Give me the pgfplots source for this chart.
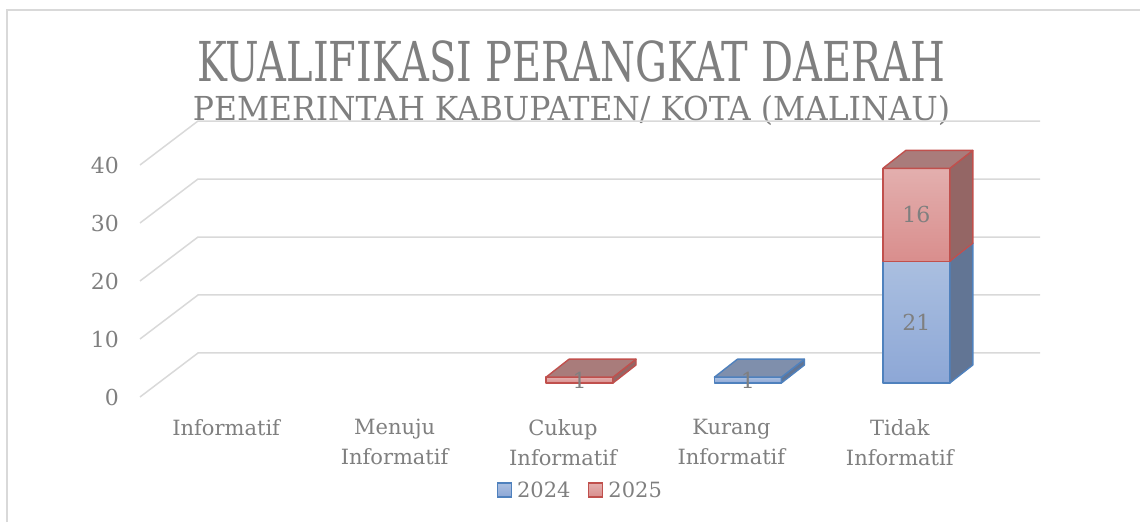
\documentclass[border=0pt]{standalone}
\usepackage{pgfplots}
\pgfplotsset{compat=1.18}
\usepackage{pgfplotstable}
\usepackage{graphicx}
\usepackage{fontspec}
\setmainfont{DejaVu Serif}

\definecolor{txtgray}{HTML}{7F7F7F}
\definecolor{gridgray}{HTML}{D9D9D9}
\definecolor{blueedge}{HTML}{4F81BD}
\definecolor{bluefronttop}{HTML}{AABFE0}
\definecolor{bluefrontbot}{HTML}{8DA7D6}
\definecolor{blueside}{HTML}{627594}
\definecolor{bluetop}{HTML}{7F8FAC}
\definecolor{rededge}{HTML}{C0504D}
\definecolor{redfronttop}{HTML}{E3AFAE}
\definecolor{redfrontbot}{HTML}{D98E8D}
\definecolor{redside}{HTML}{946665}
\definecolor{redtop}{HTML}{A97C7B}

\pgfdeclareplotmark{nothing}{}

\pgfplotstableread{
x y2024 y2025
0 0 0
1 0 0
2 0 1
3 1 0
4 21 16
}\datatable

% #1 value, #2 front top, #3 front bottom, #4 side, #5 top, #6 edge
\newcommand\cuboid[6]{%
  \pgfmathsetmacro\hh{#1*5.8}%
  \pgfmathsetmacro\bb{14-\hh}%
  \pgfmathsetmacro\mm{14-0.5*\hh}%
  \ifdim\hh pt>0pt
    \begin{scope}[line join=round, line width=1.4pt]
      \path[draw=#6, top color=#2, bottom color=#3] (-15pt,\bb pt) rectangle (52pt,14pt);
      \path[draw=#6, fill=#4] (52pt,14pt) -- (75pt,32pt) -- (75pt,\bb pt+18pt) -- (52pt,\bb pt) -- cycle;
      \path[draw=#6, fill=#5] (-15pt,14pt) -- (52pt,14pt) -- (75pt,32pt) -- (8pt,32pt) -- cycle;
      \node[text=txtgray, font=\fontsize{22}{24}\selectfont, inner sep=0pt] at (18.5pt,\mm pt) {#1};
    \end{scope}
  \fi}

\begin{document}
\begin{tikzpicture}[x=1pt,y=1pt]
\useasboundingbox (0,0) rectangle (1140,522);
\draw[gridgray, line width=1.5pt] (7,0) -- (7,512) -- (1140,512);
\node[anchor=base, text=txtgray, inner sep=0pt] at (571,440)
  {\resizebox{748pt}{\height}{\fontsize{55}{60}\selectfont KUALIFIKASI PERANGKAT DAERAH}};
\node[anchor=base, text=txtgray, inner sep=0pt] at (571.5,401)
  {\resizebox{757pt}{\height}{\fontsize{33}{36}\selectfont PEMERINTAH KABUPATEN/ KOTA (MALINAU)}};
\begin{axis}[
  at={(140pt,125pt)}, anchor=south west,
  scale only axis, width=842pt, height=232pt,
  xmin=-0.5, xmax=4.5, ymin=0, ymax=40,
  clip=false,
  axis line style={draw=none},
  major tick length=0pt,
  /pgf/number format/assume math mode=true,
  ytick={0,10,20,30,40},
  yticklabel style={text=txtgray, font=\fontsize{22}{24}\selectfont, anchor=east, inner sep=0pt, xshift=-21pt},
  xtick={0,1,2,3,4},
  xticklabels={Informatif, Menuju\\Informatif, Cukup\\Informatif, Kurang\\Informatif, Tidak\\Informatif},
  xticklabel style={text=txtgray, font=\fontsize{21}{30}\selectfont, align=center, anchor=north, inner sep=0pt, yshift=-22pt, xshift=2pt},
  legend columns=2,
  legend style={at={(0.5137,-0.401)}, anchor=center, draw=none, fill=none,
    font=\fontsize{21}{24}\selectfont, text=txtgray},
]
\pgfplotsinvokeforeach{0,10,20,30,40}{
  \draw[gridgray, line width=1.5pt] (axis cs:-0.5,#1) -- ++(58pt,44pt) -- ++(842pt,0pt);
}
\addplot[scatter, only marks, mark=nothing, point meta=explicit symbolic,
  scatter/@pre marker code/.code={\cuboid{\pgfplotspointmeta}{bluefronttop}{bluefrontbot}{blueside}{bluetop}{blueedge}},
  scatter/@post marker code/.code={},
  legend image code/.code={\path (-12pt,0pt); \draw[blueedge, line width=1.4pt, top color=bluefronttop, bottom color=bluefrontbot] (4pt,-7pt) rectangle (18pt,7pt);}
] table[x=x, y=y2024, meta=y2024] {\datatable};
\addlegendentry{\hspace{3pt}2024}
\addplot[scatter, only marks, mark=nothing, point meta=explicit symbolic,
  scatter/@pre marker code/.code={\cuboid{\pgfplotspointmeta}{redfronttop}{redfrontbot}{redside}{redtop}{rededge}},
  scatter/@post marker code/.code={},
  legend image code/.code={\path (-12pt,0pt); \draw[rededge, line width=1.4pt, top color=redfronttop, bottom color=redfrontbot] (4pt,-7pt) rectangle (18pt,7pt);}
] table[x=x, y expr=\thisrow{y2024}+\thisrow{y2025}, meta=y2025] {\datatable};
\addlegendentry{\hspace{3pt}2025}
\end{axis}
\end{tikzpicture}
\end{document}
